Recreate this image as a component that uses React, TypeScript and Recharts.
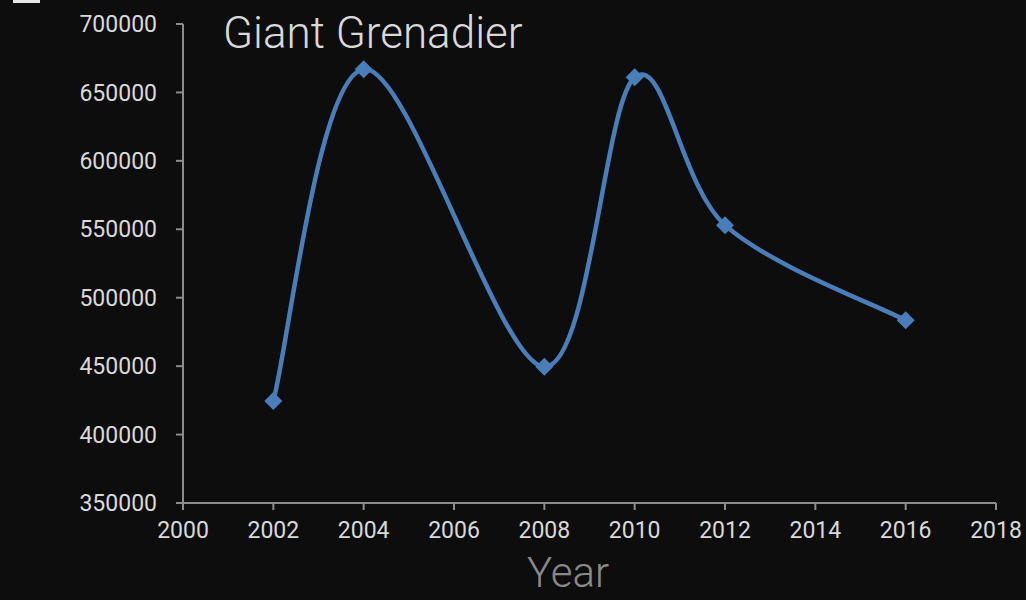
import React from "react";
import { LineChart, Line, XAxis, YAxis } from "recharts";

const years = [2002, 2004, 2008, 2010, 2012, 2016];
const catch_ = [424500, 667000, 449500, 661000, 553000, 483500];
const xTicks = [2000, 2002, 2004, 2006, 2008, 2010, 2012, 2014, 2016, 2018];
const yTicks = [350000, 400000, 450000, 500000, 550000, 600000, 650000, 700000];

const data = years.map((y, i) => ({ year: y, value: catch_[i] }));

// excel-ish smoothing (catmull-rom through the points)
const smooth = (ctx: any) => {
  let pts: number[][] = [];
  return {
    areaStart() {},
    areaEnd() {},
    lineStart() { pts = []; },
    point(x: number, y: number) { pts.push([+x, +y]); },
    lineEnd() {
      if (!pts.length) return;
      ctx.moveTo(pts[0][0], pts[0][1]);
      for (let i = 0; i < pts.length - 1; i++) {
        const p0 = pts[Math.max(i - 1, 0)], p1 = pts[i], p2 = pts[i + 1], p3 = pts[Math.min(i + 2, pts.length - 1)];
        ctx.bezierCurveTo(
          p1[0] + (p2[0] - p0[0]) / 6, p1[1] + (p2[1] - p0[1]) / 6,
          p2[0] - (p3[0] - p1[0]) / 6, p2[1] - (p3[1] - p1[1]) / 6,
          p2[0], p2[1]
        );
      }
    },
  };
};

const Diamond = (p: any) => {
  const { cx, cy } = p;
  if (cx == null || cy == null) return null;
  const r = 9;
  return <polygon points={`${cx},${cy - r} ${cx + r},${cy} ${cx},${cy + r} ${cx - r},${cy}`} fill="#4a7ebb" />;
};

const font = "Roboto, 'Noto Sans', sans-serif";

export default function App() {
  return (
    <div style={{ position: "relative", width: 1026, height: 600, background: "#0d0d0d", fontFamily: font, overflow: "hidden" }}>
      <style>{`body{margin:0}`}</style>
      <div style={{ position: "absolute", left: 13, top: 0, width: 27, height: 3, background: "#e6e6e6" }} />
      <div style={{ position: "absolute", left: 223, top: 8, fontSize: 44, fontWeight: 300, color: "#d9d9d9", lineHeight: "50px" }}>Giant Grenadier</div>
      <div style={{ position: "absolute", left: 527, top: 550, fontSize: 42, fontWeight: 300, color: "#8a8a8a", lineHeight: "46px" }}>Year</div>
      <LineChart width={1026} height={600} data={data} margin={{ top: 24, right: 30, bottom: 37, left: 0 }}>
        <XAxis
          dataKey="year"
          type="number"
          domain={[2000, 2018]}
          ticks={xTicks}
          height={60}
          stroke="#8c8c8c"
          strokeWidth={2}
          tickSize={7}
          tickMargin={12}
          tick={{ fill: "#d9d9d9", fontSize: 23, fontFamily: font }}
        />
        <YAxis
          type="number"
          domain={[350000, 700000]}
          ticks={yTicks}
          width={183}
          stroke="#8c8c8c"
          strokeWidth={2}
          tickSize={7}
          tickMargin={19}
          tick={{ fill: "#d9d9d9", fontSize: 23, fontFamily: font }}
        />
        <Line dataKey="value" type={smooth as any} stroke="#4a7ebb" strokeWidth={4.5} dot={<Diamond />} activeDot={false} isAnimationActive={false} />
      </LineChart>
    </div>
  );
}
